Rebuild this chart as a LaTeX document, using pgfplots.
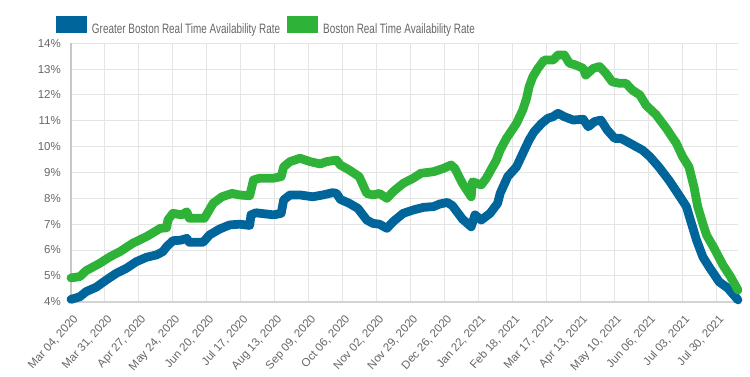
\documentclass[border=0pt]{standalone}
\usepackage{pgfplots}
\pgfplotsset{compat=1.18}
\usepackage{fontspec}
\setmainfont{Liberation Sans}
\newfontfamily\legendfont[FakeStretch=0.73]{Liberation Sans}
\newfontfamily\tickfont{Liberation Sans}
\definecolor{gbblue}{RGB}{0,101,155}
\definecolor{bgreen}{RGB}{46,178,56}
\definecolor{txtgray}{RGB}{102,102,102}
\definecolor{gridgray}{RGB}{228,228,228}
\definecolor{axgray}{RGB}{200,200,200}
\begin{document}
\begin{tikzpicture}
\path[use as bounding box] (-71pt,-75.3pt) rectangle (679pt,301.7pt);
\begin{axis}[
  at={(0pt,0pt)}, anchor=south west,
  scale only axis, width=667pt, height=258.4pt,
  xmin=0, xmax=530, ymin=4, ymax=14,
  clip=false,
  axis lines*=left,
  x axis line style={draw=axgray!80, line width=2pt},
  y axis line style={draw=axgray, line width=1.2pt},
  grid=major, major grid style={draw=gridgray, line width=1pt},
  major tick length=0pt,
  ytick={4,5,...,14},
  yticklabels={4\%,5\%,6\%,7\%,8\%,9\%,10\%,11\%,12\%,13\%,14\%},
  xtick={0,27,...,513},
  xticklabels={{Mar 04, 2020},{Mar 31, 2020},{Apr 27, 2020},{May 24, 2020},{Jun 20, 2020},{Jul 17, 2020},{Aug 13, 2020},{Sep 09, 2020},{Oct 06, 2020},{Nov 02, 2020},{Nov 29, 2020},{Dec 26, 2020},{Jan 22, 2021},{Feb 18, 2021},{Mar 17, 2021},{Apr 13, 2021},{May 10, 2021},{Jun 06, 2021},{Jul 03, 2021},{Jul 30, 2021}},
  yticklabel style={font=\tickfont\fontsize{11.5}{13}\selectfont, text=txtgray, inner sep=0pt, anchor=east, xshift=-10pt},
  xticklabel style={font=\tickfont\fontsize{11.5}{13}\selectfont, text=txtgray, inner sep=0pt, rotate=48, anchor=north east, yshift=-9pt, xshift=-8pt},
  legend columns=2,
  legend style={draw=none, fill=none, inner sep=0pt, outer sep=0pt,
    at={(axis description cs:-0.0225,1)}, anchor=south west, yshift=8.5pt,
    nodes={inner sep=0pt, font=\legendfont\fontsize{13.6}{15}\selectfont, text=txtgray},
    /tikz/every odd column/.append style={column sep=5pt},
    /tikz/every even column/.append style={column sep=7pt}},
  legend image code/.code={\path[fill, draw=none] (0pt,-3.8pt) rectangle (31pt,13.2pt);},
]
\addplot[color=gbblue, line width=8.8pt, line join=round, line cap=round] coordinates {
(0,4.09) (7,4.19) (12,4.39) (20,4.56) (28,4.84) (36,5.10) (44,5.29) (52,5.55)
(60,5.72) (68,5.81) (73,5.94) (76,6.13) (81,6.36) (87,6.38) (92,6.45) (94,6.30)
(105,6.30) (110,6.58) (118,6.81) (126,6.97) (134,7.00) (142,6.95) (143,7.36) (147,7.44)
(161,7.36) (167,7.42) (169,7.94) (174,8.13) (182,8.13) (192,8.06) (200,8.13) (208,8.22)
(211,8.19) (214,7.96) (221,7.81) (228,7.61) (235,7.16) (240,7.03) (245,7.00) (251,6.84)
(256,7.10) (264,7.42) (272,7.55) (280,7.65) (288,7.68) (293,7.78) (299,7.84) (303,7.72)
(311,7.20) (318,6.90) (321,7.36) (326,7.16) (333,7.42) (339,7.81) (341,8.19) (347,8.84)
(354,9.22) (359,9.74) (364,10.26) (368,10.58) (374,10.90) (379,11.10) (383,11.16) (387,11.29)
(392,11.16) (399,11.03) (407,11.06) (411,10.77) (416,10.97) (421,11.03) (426,10.65) (432,10.32)
(437,10.32) (442,10.19) (449,10.00) (454,9.87) (460,9.61) (467,9.22) (475,8.71) (483,8.13)
(489,7.68) (493,7.03) (497,6.39) (502,5.74) (507,5.35) (515,4.77) (522,4.52) (530,4.07)
};
\addlegendentry{Greater Boston Real Time Availability Rate}
\addplot[color=bgreen, line width=8.8pt, line join=round, line cap=round] coordinates {
(0,4.92) (7,4.97) (12,5.20) (23,5.49) (31,5.74) (39,5.94) (49,6.26) (60,6.52)
(71,6.84) (76,6.86) (77,7.16) (81,7.42) (88,7.36) (92,7.48) (94,7.23) (102,7.23)
(106,7.23) (113,7.81) (120,8.06) (128,8.19) (134,8.13) (142,8.10) (145,8.71) (150,8.78)
(161,8.78) (167,8.84) (169,9.22) (174,9.42) (182,9.55) (190,9.42) (198,9.33) (203,9.42)
(211,9.48) (214,9.29) (221,9.10) (229,8.84) (235,8.19) (240,8.13) (245,8.19) (251,8.00)
(256,8.26) (264,8.58) (272,8.78) (278,8.97) (288,9.03) (296,9.16) (302,9.29) (305,9.16)
(311,8.58) (318,8.06) (319,8.64) (326,8.52) (330,8.78) (338,9.48) (341,9.87) (346,10.32)
(354,10.90) (359,11.42) (362,11.87) (364,12.32) (367,12.71) (371,13.03) (376,13.35) (383,13.35)
(387,13.55) (392,13.55) (396,13.23) (401,13.16) (407,13.03) (409,12.77) (415,13.03) (420,13.10)
(425,12.84) (430,12.51) (436,12.45) (441,12.45) (446,12.19) (452,12.00) (457,11.60) (465,11.23)
(473,10.71) (481,10.13) (486,9.61) (491,9.22) (495,8.45) (498,7.68) (502,7.03) (505,6.58)
(511,6.07) (518,5.42) (524,4.97) (530,4.45)
};
\addlegendentry{Boston Real Time Availability Rate}
\end{axis}
\end{tikzpicture}
\end{document}
